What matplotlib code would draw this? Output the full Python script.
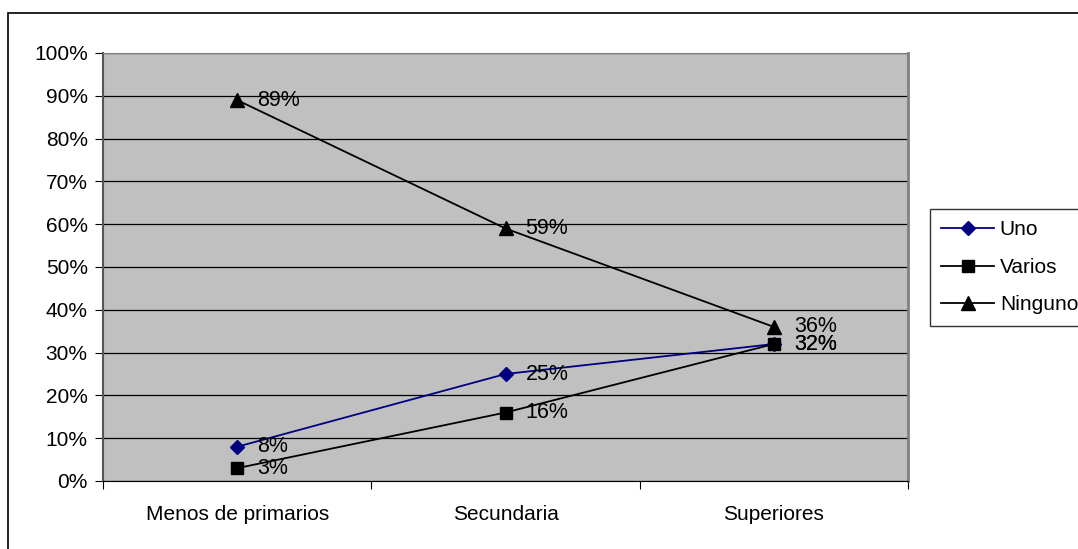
import matplotlib.pyplot as plt
from matplotlib.patches import Rectangle

plt.rcParams['font.family'] = ['Liberation Sans', 'DejaVu Sans']

# data
categories = ["Menos de primarios", "Secundaria", "Superiores"]
uno = [8, 25, 32]
varios = [3, 16, 32]
ninguno = [89, 59, 36]
y_ticks = [0, 10, 20, 30, 40, 50, 60, 70, 80, 90, 100]

W, H = 1078, 549
fig = plt.figure(figsize=(W / 100, H / 100), dpi=100)
fig.patch.set_facecolor("white")

# outer chart frame (only left and top edges visible)
fig.patches.append(Rectangle((8 / W, -0.05), 1.1, 1 - 13 / H + 0.05,
                             transform=fig.transFigure, fill=False,
                             edgecolor="black", linewidth=1.2))

ax = fig.add_axes([103 / W, 1 - 481 / H, (908 - 103) / W, (481 - 53) / H])
ax.set_facecolor("#c0c0c0")

x = list(range(len(categories)))
ax.plot(x, uno, color="#000080", lw=1.3, marker="D", ms=7, mfc="#000080", mec="#000080", zorder=3, label="Uno")
ax.plot(x, varios, color="black", lw=1.3, marker="s", ms=9, mfc="black", zorder=3, label="Varios")
ax.plot(x, ninguno, color="black", lw=1.3, marker="^", ms=10, mfc="black", zorder=3, label="Ninguno")

# value labels to the right of each point
for series in (uno, varios, ninguno):
    for xi, v in zip(x, series):
        ax.annotate(f"{v}%", (xi, v), xytext=(20, 0), textcoords="offset pixels",
                    va="center", ha="left", fontsize=15.5, zorder=4)

ax.set_xlim(-0.5, 2.5)
ax.set_ylim(0, 100)
ax.set_yticks(y_ticks)
ax.set_yticklabels([f"{t}%" for t in y_ticks], fontsize=15)
ax.yaxis.grid(True, color="black", lw=0.9)
ax.set_axisbelow(True)

ax.set_xticks([-0.5, 0.5, 1.5, 2.5])
ax.set_xticklabels([])
ax.set_xticks(x, minor=True)
ax.set_xticklabels(categories, minor=True, fontsize=15)
ax.tick_params(axis="x", which="minor", length=0, pad=17)
ax.tick_params(axis="x", which="major", length=6, color="black", direction="out")
ax.tick_params(axis="y", length=6, direction="out", pad=5)

ax.spines["left"].set_color("#555555")
ax.spines["left"].set_linewidth(1.5)
ax.spines["bottom"].set_color("black")
ax.spines["top"].set_color("#808080")
ax.spines["right"].set_color("#808080")
ax.spines["right"].set_linewidth(2)

leg = fig.legend(loc="upper left", bbox_to_anchor=(930 / W, 1 - 209 / H),
                 fontsize=15, frameon=True, fancybox=False, edgecolor="black",
                 handlelength=2.5, handletextpad=0.3, borderpad=0.55,
                 labelspacing=0.88, borderaxespad=0)
leg.get_frame().set_linewidth(1)

fig.savefig("out.png", dpi=100)
